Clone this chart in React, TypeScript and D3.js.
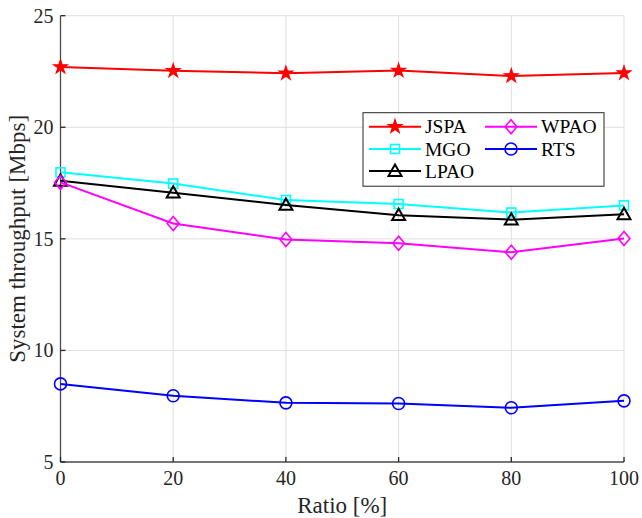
import React from "react";
import * as d3 from "d3";

const ratios = [0, 20, 40, 60, 80, 100];
const jspa = [22.7, 22.53, 22.42, 22.54, 22.3, 22.43];
const mgo = [17.98, 17.48, 16.74, 16.56, 16.18, 16.5];
const lpao = [17.6, 17.07, 16.52, 16.06, 15.86, 16.1];
const wpao = [17.53, 15.69, 14.97, 14.8, 14.4, 15.02];
const rts = [8.5, 7.97, 7.65, 7.62, 7.43, 7.74];
const xTicks = [0, 20, 40, 60, 80, 100];
const yTicks = [5, 10, 15, 20, 25];

const series = [
  { name: "JSPA", values: jspa, color: "#ff0000", marker: "star" },
  { name: "MGO", values: mgo, color: "#00ffff", marker: "square" },
  { name: "LPAO", values: lpao, color: "#000000", marker: "triangle" },
  { name: "WPAO", values: wpao, color: "#ff00ff", marker: "diamond" },
  { name: "RTS", values: rts, color: "#0000ff", marker: "circle" },
];

const W = 642, H = 518;
const L = 60.5, R = 624, T = 15.7, B = 462;
const font = "'Liberation Serif', 'Times New Roman', serif";

function Marker({ type, x, y, color }: { type: string; x: number; y: number; color: string }) {
  const sw = 1.6;
  if (type === "star") {
    const sym = d3.symbol().type(d3.symbolStar).size(58)();
    return <path d={sym!} transform={`translate(${x},${y})`} fill={color} stroke={color} strokeWidth={1.2} />;
  }
  if (type === "square") {
    return <rect x={x - 4.5} y={y - 4.5} width={9} height={9} fill="none" stroke={color} strokeWidth={sw} />;
  }
  if (type === "triangle") {
    const s = 6.5;
    return <path d={`M${x},${y - s}L${x + s * 1.0},${y + s * 0.75}L${x - s * 1.0},${y + s * 0.75}Z`} fill="none" stroke={color} strokeWidth={2} />;
  }
  if (type === "diamond") {
    const s = 7;
    return <path d={`M${x},${y - s}L${x + s * 0.85},${y}L${x},${y + s}L${x - s * 0.85},${y}Z`} fill="none" stroke={color} strokeWidth={sw} />;
  }
  return <circle cx={x} cy={y} r={6} fill="none" stroke={color} strokeWidth={sw} />;
}

export default function App() {
  const x = d3.scaleLinear().domain([0, 100]).range([L, R]);
  const y = d3.scaleLinear().domain([5, 25]).range([B, T]);
  const line = d3.line<number>().x((_, i) => x(ratios[i])).y((d) => y(d));
  const axisColor = "#262626";

  const legendX = 363, legendY = 112.7, legendW = 241, legendH = 73.5;
  const legendPos = [
    { col: 0, row: 0 },
    { col: 0, row: 1 },
    { col: 0, row: 2 },
    { col: 1, row: 0 },
    { col: 1, row: 1 },
  ];
  const colX = [369, 485];
  const rowY = [126.7, 149, 171];

  return (
    <svg width={W} height={H} style={{ display: "block", position: "absolute", left: 0, top: 0 }} fontFamily={font}>
      <rect width={W} height={H} fill="#fff" />
      {/* grid */}
      {xTicks.map((t) => (
        <line key={"gx" + t} x1={x(t)} x2={x(t)} y1={T} y2={B} stroke="#dfdfdf" strokeWidth={1} />
      ))}
      {yTicks.map((t) => (
        <line key={"gy" + t} x1={L} x2={R} y1={y(t)} y2={y(t)} stroke="#dfdfdf" strokeWidth={1} />
      ))}
      {/* axes */}
      <line x1={L} x2={L} y1={T} y2={B} stroke={axisColor} strokeWidth={1.3} opacity={0.8} />
      <line x1={L} x2={R} y1={B} y2={B} stroke={axisColor} strokeWidth={1.3} opacity={0.8} />
      {xTicks.map((t) => (
        <g key={"xt" + t}>
          <line x1={x(t)} x2={x(t)} y1={B} y2={B - 5} stroke={axisColor} strokeWidth={1.3} />
          <text x={x(t)} y={B + 23} textAnchor="middle" fontSize={20} fill={axisColor}>{t}</text>
        </g>
      ))}
      {yTicks.map((t) => (
        <g key={"yt" + t}>
          <line x1={L} x2={L + 5} y1={y(t)} y2={y(t)} stroke={axisColor} strokeWidth={1.3} />
          <text x={L - 7} y={y(t) + 7} textAnchor="end" fontSize={20} fill={axisColor}>{t}</text>
        </g>
      ))}
      <text x={(L + R) / 2} y={513} textAnchor="middle" fontSize={23} fill={axisColor}>Ratio [%]</text>
      <text transform={`translate(25,${(T + B) / 2}) rotate(-90)`} textAnchor="middle" fontSize={23} fill={axisColor}>System throughput [Mbps]</text>
      {/* series */}
      {series.map((s) => (
        <g key={s.name}>
          <path d={line(s.values)!} fill="none" stroke={s.color} strokeWidth={2} />
          {s.values.map((v, i) => (
            <Marker key={i} type={s.marker} x={x(ratios[i])} y={y(v)} color={s.color} />
          ))}
        </g>
      ))}
      {/* legend */}
      <rect x={legendX} y={legendY} width={legendW} height={legendH} fill="#fff" stroke="#262626" strokeWidth={1} />
      {series.map((s, i) => {
        const p = legendPos[i];
        const lx = colX[p.col];
        const ly = rowY[p.row];
        return (
          <g key={"lg" + s.name}>
            <line x1={lx} x2={lx + 52} y1={ly} y2={ly} stroke={s.color} strokeWidth={2} />
            <Marker type={s.marker} x={lx + 26} y={ly} color={s.color} />
            <text x={lx + 56} y={ly + 6.5} fontSize={19.5} fill="#000">{s.name}</text>
          </g>
        );
      })}
    </svg>
  );
}
